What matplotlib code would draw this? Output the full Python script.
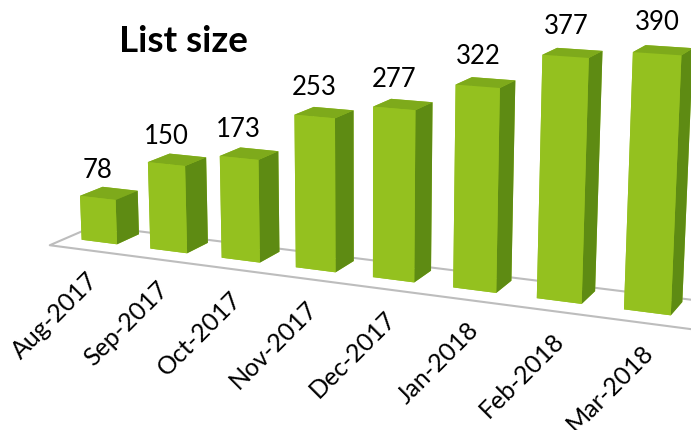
import numpy as np
import matplotlib.pyplot as plt
import matplotlib.transforms as mtransforms
from mpl_toolkits.mplot3d import proj3d
from mpl_toolkits.mplot3d.art3d import Poly3DCollection

# data
months = ['Aug-2017', 'Sep-2017', 'Oct-2017', 'Nov-2017',
          'Dec-2017', 'Jan-2018', 'Feb-2018', 'Mar-2018']
sizes = [78, 150, 173, 253, 277, 322, 377, 390]

plt.rcParams['font.family'] = ['Lato', 'DejaVu Sans']

front_col = '#94C11F'
side_col = '#5E8B13'
top_col = '#7EAA1B'

n = len(sizes)
x = np.arange(n)
w = 0.52  # bar width = bar depth

W, H = 691, 431
S = 1500  # side of the (square) 3d axes box in pixels, larger than the figure
cx, cy = 343, 172  # where the centre of the 3d box lands, px from top-left
zoom = 1.6 * 1.07 * 0.985 * 431 / S

fig = plt.figure(figsize=(W / 100, H / 100), dpi=100)
ax = fig.add_axes([cx / W - S / W / 2, 1 - cy / H - S / H / 2, S / W, S / H],
                  projection='3d')
ax.set_proj_type('persp', focal_length=0.21)
ax.view_init(elev=12.5, azim=-66)
ax.set_axis_off()
ax.computed_zorder = False

# floor
fx0, fx1 = -0.5, n - 0.4
fy0, fy1 = -0.62, 0.4
floor = Poly3DCollection([[(fx0, fy0, 0), (fx1, fy0, 0), (fx1, fy1, 0), (fx0, fy1, 0)]],
                         facecolor='white', edgecolor='#BDBDBD', linewidth=1.5, zorder=1)
ax.add_collection3d(floor)

# bars: faces are -z, +z, -y, +y, -x, +x
face_cols = [front_col, top_col, front_col, front_col, front_col, side_col] * n
ax.bar3d(x - w / 2, np.full(n, -w / 2), np.zeros(n), w, w, sizes,
         color=face_cols, shade=False, edgecolor='none', zorder=2)

ax.set_xlim(fx0, fx1)
ax.set_ylim(fy0, fy1)
ax.set_zlim(0, 400)
ax.set_box_aspect((fx1 - fx0, fy1 - fy0, 2.92), zoom=zoom)

for xi, v in zip(x, sizes):
    ax.text(xi, -w / 2, v + 28, str(v), ha='center', va='bottom',
            fontsize=18.5, zorder=5)

# month labels: project the floor front edge and write rotated 2D text there
M = ax.get_proj()
lab_trans = mtransforms.offset_copy(ax.transData, fig=fig, x=3, y=-18, units='dots')
for xi, m in zip(x, months):
    px, py, _ = proj3d.proj_transform(xi, fy0, 0, M)
    ax.text2D(px, py, m, transform=lab_trans, rotation=45, ha='right', va='top',
              rotation_mode='anchor', fontsize=18, zorder=5)

fig.text(0.265, 0.879, 'List size', fontsize=26.5, fontweight='bold',
         ha='center', va='baseline')

fig.savefig('out.png', dpi=100)
